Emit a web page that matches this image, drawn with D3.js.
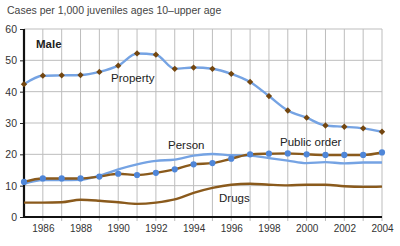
<!DOCTYPE html>
<html>
<head>
<meta charset="utf-8">
<script src="https://cdn.jsdelivr.net/npm/d3@7"></script>
<style>
  body { margin: 0; background: #fff; }
  svg { font-family: "Liberation Sans", Arial, sans-serif; }
</style>
</head>
<body>
<script>
// data
const years = d3.range(1985, 2005);
const property = [42.4, 45.1, 45.2, 45.3, 46.3, 48.3, 52.2, 51.8, 47.3, 47.7, 47.3, 45.7, 43.1, 38.6, 34.0, 31.7, 29.2, 28.8, 28.3, 27.2];
const person = [10.6, 11.8, 11.8, 11.9, 13.2, 15.2, 16.8, 17.9, 18.3, 19.6, 20.1, 19.7, 19.6, 18.8, 18.0, 17.2, 17.5, 17.1, 17.4, 17.4];
const publicOrder = [11.2, 12.3, 12.3, 12.3, 12.9, 13.8, 13.4, 14.1, 15.2, 16.8, 17.2, 18.6, 20.0, 20.2, 20.3, 20.0, 19.8, 19.8, 19.8, 20.6];
const drugs = [4.6, 4.6, 4.7, 5.5, 5.2, 4.7, 4.2, 4.6, 5.6, 7.7, 9.3, 10.3, 10.6, 10.3, 10.1, 10.3, 10.3, 9.8, 9.6, 9.7];
const yTicks = [0, 10, 20, 30, 40, 50, 60];
const xLabelYears = d3.range(1986, 2005, 2);

const w = 400;
const h = 246;

const blue = "#75a3e3";
const blueDot = "#4f86d8";
const brown = "#8a5a1c";
const brownDot = "#73460f";

const x = d3.scaleLinear().domain([1985, 2004]).range([24, 382]);
const y = d3.scaleLinear().domain([0, 60]).range([217, 29]);

const svg = d3.select("body").append("svg").attr("width", w).attr("height", h);

// title
svg.append("text")
  .attr("x", 7).attr("y", 14)
  .attr("font-size", 10.5).attr("fill", "#444")
  .text("Cases per 1,000 juveniles ages 10\u2013upper age");

// grid
svg.append("g")
  .selectAll("line")
  .data(years.slice(1))
  .join("line")
  .attr("x1", (d) => x(d)).attr("x2", (d) => x(d))
  .attr("y1", y(60)).attr("y2", y(0) + 4)
  .attr("stroke", "#bdbdbd").attr("stroke-width", 1);

svg.append("g")
  .selectAll("line")
  .data(yTicks.slice(1))
  .join("line")
  .attr("x1", x(1985)).attr("x2", x(2004))
  .attr("y1", (d) => y(d)).attr("y2", (d) => y(d))
  .attr("stroke", "#bdbdbd").attr("stroke-width", 1);

// y axis
const yAxis = d3.axisLeft(y).tickValues(yTicks).tickSize(4).tickPadding(3);
const gy = svg.append("g").attr("transform", `translate(${x(1985)},0)`).call(yAxis);
gy.select(".domain").remove();
gy.selectAll("text").attr("font-size", 10.5).attr("fill", "#333").attr("font-family", null);
gy.selectAll(".tick line").attr("stroke", "#222");

// x axis labels
const xAxis = d3.axisBottom(x).tickValues(xLabelYears).tickFormat(d3.format("d")).tickSize(0).tickPadding(8);
const gx = svg.append("g").attr("transform", `translate(0,${y(0)})`).call(xAxis);
gx.select(".domain").remove();
gx.selectAll("text").attr("font-size", 10).attr("fill", "#333").attr("font-family", null);

// axis lines
svg.append("line")
  .attr("x1", x(1985)).attr("x2", x(1985))
  .attr("y1", y(60)).attr("y2", y(0) + 1)
  .attr("stroke", "#111").attr("stroke-width", 2.2);
svg.append("line")
  .attr("x1", x(1985) - 1).attr("x2", x(2004))
  .attr("y1", y(0)).attr("y2", y(0))
  .attr("stroke", "#111").attr("stroke-width", 2.2);

const line = d3.line()
  .x((d, i) => x(years[i]))
  .y((d) => y(d))
  .curve(d3.curveMonotoneX);

const drawLine = (data, color) => {
  svg.append("path")
    .datum(data)
    .attr("d", line)
    .attr("fill", "none")
    .attr("stroke", color)
    .attr("stroke-width", 2.4);
};

drawLine(drugs, brown);
drawLine(person, blue);
drawLine(publicOrder, brown);
drawLine(property, blue);

// markers
svg.append("g")
  .selectAll("circle")
  .data(publicOrder)
  .join("circle")
  .attr("cx", (d, i) => x(years[i]))
  .attr("cy", (d) => y(d))
  .attr("r", 3.1)
  .attr("fill", blueDot);

// diamonds: squares turned 45 degrees
svg.append("g")
  .selectAll("path")
  .data(property)
  .join("path")
  .attr("d", d3.symbol(d3.symbolSquare, 20))
  .attr("transform", (d, i) => `translate(${x(years[i])},${y(d)}) rotate(45)`)
  .attr("fill", brownDot);

// labels
const labels = [
  { text: "Male", x: 36, y: 48, bold: true },
  { text: "Property", x: 111, y: 82 },
  { text: "Person", x: 168, y: 149 },
  { text: "Public order", x: 280, y: 146 },
  { text: "Drugs", x: 219, y: 202 }
];

svg.append("g")
  .selectAll("text")
  .data(labels)
  .join("text")
  .attr("x", (d) => d.x)
  .attr("y", (d) => d.y)
  .attr("font-size", 11.5)
  .attr("font-weight", (d) => (d.bold ? "bold" : "normal"))
  .attr("fill", "#222")
  .text((d) => d.text);
</script>
</body>
</html>
